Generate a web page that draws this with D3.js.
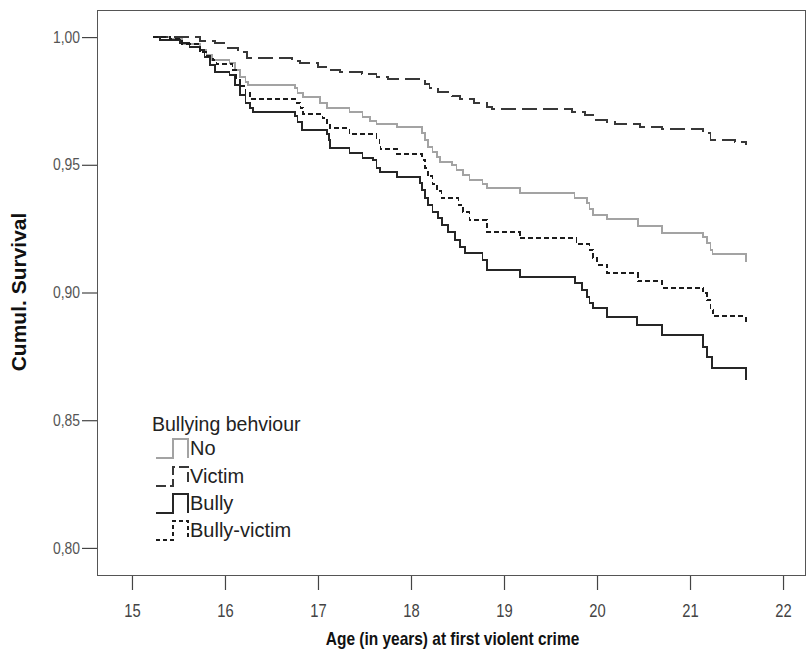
<!DOCTYPE html>
<html>
<head>
<meta charset="utf-8">
<script src="https://cdn.jsdelivr.net/npm/d3@7"></script>
<style>
  html, body { margin: 0; padding: 0; background: #fff; }
  svg { display: block; font-family: "Liberation Sans", Arial, sans-serif; }
</style>
</head>
<body>
<svg id="chart" width="807" height="654"></svg>
<script>
// ---------- data ----------
const groupNames = ["No", "Victim", "Bully", "Bully-victim"];

const noAge  = [15.23,15.41,15.54,15.73,15.80,15.86,16.05,16.11,16.16,16.22,16.25,16.75,16.78,16.84,17.02,17.10,17.34,17.48,17.56,17.63,17.85,18.12,18.15,18.18,18.23,18.28,18.31,18.44,18.49,18.56,18.63,18.77,18.82,19.17,19.76,19.89,19.92,19.96,20.11,20.44,20.70,21.14,21.18,21.22,21.24,21.60];
const noSurv = [1.000,0.9992,0.9973,0.9949,0.9930,0.9910,0.9898,0.9871,0.9843,0.9824,0.9812,0.9800,0.9781,0.9765,0.9742,0.9722,0.9706,0.9687,0.9671,0.9659,0.9648,0.9624,0.9597,0.9569,0.9550,0.9530,0.9511,0.9499,0.9479,0.9460,0.9440,0.9425,0.9409,0.9389,0.9370,0.9350,0.9327,0.9303,0.9288,0.9260,0.9233,0.9217,0.9194,0.9166,0.9151,0.9119];

const victimAge  = [15.23,15.73,15.89,16.03,16.14,16.24,16.72,16.81,17.00,17.13,17.24,17.47,17.63,17.75,18.15,18.20,18.29,18.44,18.53,18.68,18.82,18.87,19.73,19.87,19.96,20.11,20.19,20.46,20.70,21.14,21.22,21.48,21.60];
const victimSurv = [1.000,0.9984,0.9977,0.9957,0.9941,0.9918,0.9906,0.9898,0.9883,0.9871,0.9863,0.9855,0.9843,0.9836,0.9816,0.9800,0.9785,0.9769,0.9757,0.9742,0.9726,0.9718,0.9706,0.9695,0.9675,0.9667,0.9659,0.9648,0.9640,0.9624,0.9597,0.9589,0.9577];

const bullyAge  = [15.23,15.30,15.52,15.62,15.73,15.78,15.84,15.89,16.05,16.11,16.16,16.22,16.27,16.30,16.75,16.78,16.83,17.10,17.12,17.13,17.34,17.48,17.59,17.63,17.67,17.85,18.10,18.12,18.15,18.18,18.23,18.29,18.33,18.40,18.47,18.53,18.58,18.77,18.82,19.17,19.76,19.84,19.89,19.92,19.96,20.11,20.43,20.70,21.14,21.18,21.24,21.60];
const bullySurv = [1.000,0.9988,0.9977,0.9961,0.9949,0.9922,0.9890,0.9863,0.9851,0.9812,0.9773,0.9742,0.9722,0.9706,0.9691,0.9667,0.9636,0.9620,0.9597,0.9566,0.9546,0.9526,0.9519,0.9487,0.9472,0.9452,0.9429,0.9401,0.9370,0.9342,0.9315,0.9292,0.9264,0.9237,0.9205,0.9178,0.9155,0.9127,0.9088,0.9061,0.9037,0.9010,0.8982,0.8959,0.8939,0.8904,0.8873,0.8834,0.8787,0.8748,0.8704,0.8658];

const bvAge  = [15.23,15.41,15.54,15.73,15.80,15.87,15.91,16.08,16.12,16.16,16.22,16.27,16.77,16.81,16.84,17.05,17.10,17.13,17.34,17.63,17.66,17.67,17.85,18.12,18.15,18.18,18.23,18.28,18.33,18.51,18.56,18.63,18.82,19.17,19.78,19.92,19.96,20.00,20.11,20.44,20.70,21.14,21.18,21.22,21.25,21.60];
const bvSurv = [1.000,0.9992,0.9973,0.9941,0.9926,0.9910,0.9894,0.9871,0.9840,0.9808,0.9781,0.9757,0.9742,0.9722,0.9699,0.9683,0.9663,0.9644,0.9620,0.9601,0.9581,0.9562,0.9542,0.9519,0.9487,0.9456,0.9425,0.9397,0.9370,0.9342,0.9315,0.9284,0.9237,0.9213,0.9190,0.9166,0.9135,0.9108,0.9076,0.9045,0.9018,0.8998,0.8971,0.8932,0.8908,0.8873];

const xTicks = [15, 16, 17, 18, 19, 20, 21, 22];
const yTicks = [0.80, 0.85, 0.90, 0.95, 1.00];

const xTitle = "Age (in years) at first violent crime";
const yTitle = "Cumul. Survival";
const legendTitle = "Bullying behviour";

// ---------- styles ----------
const styles = {
  "No":           { color: "#a3a3a3", dash: null,  width: 1.6 },
  "Victim":       { color: "#383838", dash: "15,6", width: 1.7 },
  "Bully":        { color: "#262626", dash: null,  width: 1.7 },
  "Bully-victim": { color: "#1c1c1c", dash: "5,3", width: 1.6 }
};

const series = [
  { name: "No", age: noAge, surv: noSurv },
  { name: "Victim", age: victimAge, surv: victimSurv },
  { name: "Bully", age: bullyAge, surv: bullySurv },
  { name: "Bully-victim", age: bvAge, surv: bvSurv }
];

// ---------- layout ----------
const plot = { left: 97, right: 806, top: 10, bottom: 575 };

const x = d3.scaleLinear().domain([14.624, 22.247]).range([plot.left, plot.right]);
const y = d3.scaleLinear().domain([0.7894, 1.0106]).range([plot.bottom, plot.top]);

const svg = d3.select("#chart");

// frame
svg.append("rect")
  .attr("x", plot.left + 0.5).attr("y", plot.top + 0.5)
  .attr("width", plot.right - plot.left - 1).attr("height", plot.bottom - plot.top)
  .attr("fill", "none").attr("stroke", "#555").attr("stroke-width", 1);

// y axis
const yScaleX = 0.87;
const yAxis = svg.append("g")
  .attr("transform", `translate(${plot.left},0)`)
  .call(d3.axisLeft(y).tickValues(yTicks).tickSize(15).tickPadding(4.5)
    .tickFormat(d => d.toFixed(2).replace(".", ",")));
yAxis.select(".domain").remove();
yAxis.selectAll(".tick line").attr("stroke", "#444").attr("stroke-width", 1.2);
yAxis.selectAll(".tick text").attr("fill", "#555").style("font-size", "16px")
  .attr("transform", `scale(${yScaleX},1)`);

// x axis
const xAxis = svg.append("g")
  .attr("transform", `translate(0,${plot.bottom + 1})`)
  .call(d3.axisBottom(x).tickValues(xTicks).tickSize(14).tickPadding(14));
xAxis.select(".domain").remove();
xAxis.selectAll(".tick line").attr("stroke", "#444").attr("stroke-width", 1.2);
xAxis.selectAll(".tick text").attr("fill", "#444").style("font-size", "18px")
  .attr("transform", "scale(0.82,1)");

// axis titles
svg.append("text")
  .attr("transform", `translate(${(plot.left + plot.right) / 2 + 1},645) scale(0.86,1)`)
  .attr("text-anchor", "middle")
  .style("font-size", "18px").style("font-weight", "bold").attr("fill", "#111")
  .text(xTitle);

svg.append("text")
  .attr("transform", `translate(26,292) rotate(-90)`)
  .attr("text-anchor", "middle")
  .style("font-size", "21px").style("font-weight", "bold").attr("fill", "#111")
  .text(yTitle);

// curves
const line = d3.line().x(d => x(d[0])).y(d => y(d[1])).curve(d3.curveStepAfter);

series.forEach(s => {
  const st = styles[s.name];
  const pts = s.age.map((a, i) => [a, s.surv[i]]);
  svg.append("path")
    .datum(pts)
    .attr("d", line)
    .attr("fill", "none")
    .attr("stroke", st.color)
    .attr("stroke-width", st.width)
    .attr("stroke-dasharray", st.dash)
    .attr("shape-rendering", "crispEdges");
});

// legend
const legend = svg.append("g").attr("transform", "translate(152,0)");
legend.append("text")
  .attr("x", 0).attr("y", 431)
  .style("font-size", "19.5px").attr("fill", "#222")
  .text(legendTitle);

const legY = [448, 476, 503, 530];
groupNames.forEach((name, i) => {
  const st = styles[name];
  const cy = legY[i];
  const g = legend.append("g");
  g.append("path")
    .attr("d", `M4,${cy + 10}H21V${cy - 9}H36V${cy + 10}`)
    .attr("fill", "none")
    .attr("stroke", st.color)
    .attr("stroke-width", st.width)
    .attr("stroke-dasharray", st.dash ? (name === "Victim" ? "10,4" : "4,3") : null)
    .attr("shape-rendering", "crispEdges");
  g.append("text")
    .attr("x", 38).attr("y", cy + 7)
    .style("font-size", "20px").attr("fill", "#222")
    .text(name);
});
</script>
</body>
</html>
